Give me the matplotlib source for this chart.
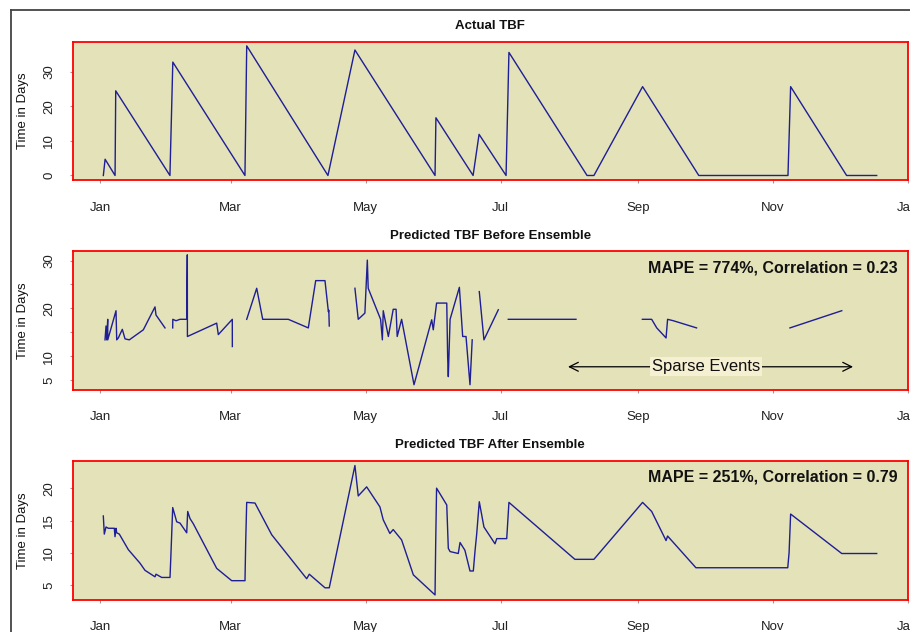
import numpy as np
import matplotlib
matplotlib.use("Agg")
import matplotlib.pyplot as plt
import matplotlib.dates as mdates
from matplotlib.lines import Line2D

plt.rcParams["font.family"] = ["Liberation Sans", "DejaVu Sans"]

YEAR_START = np.datetime64("2013-01-01")

# day of year (0 = Jan 1) and TBF values
actual_days = [1.5, 2.3, 6.8, 7.1, 31.6, 32.9, 65.5, 66.3, 103.0, 115.2, 151.4, 151.8,
               168.6, 171.3, 183.5, 184.8, 220.1, 223.2, 245.2, 270.6, 310.9, 312.1,
               337.4, 351.0]
actual_vals = [0, 4.7, 0, 24.5, 0, 32.8, 0, 37.5, 0, 36.3, 0, 16.7,
               0, 11.9, 0, 35.6, 0, 0, 25.7, 0, 0, 25.7,
               0, 0]

nan = np.nan
before_days = [2.26, 2.71, 3.03, 3.48, 3.5, 7.23, 7.55, 8.27, 10.08, 11.3, 13.24, 19.57,
               24.85, 25.3, 29.37, nan,
               32.85, 32.9, 34.34, 36.15, 39.18, 39.45, 39.5, 52.73, 53.46, 59.78, 59.8, nan,
               66.29, 70.81, 73.52, 85.09, 94.13, 97.47, 101.67, 103.2, 103.4, 103.6, nan,
               115.2, 116.7, 119.7, 120.8, 121.2, 126.8, 127.6, 128.0, 130.3, 132.5, 133.8,
               134.3, 136.3, 141.9, 149.9, 150.6, 152.1, 156.7, 157.1, 157.4, 158.2, 162.4,
               163.9, 165.4, 167.2, 168.2, nan,
               171.4, 173.5, 180.0, nan,
               184.5, 215.1, nan,
               245.1, 249.3, 251.6, 255.8, 256.5, 259.1, 269.6, nan,
               311.8, 335.2]
before_vals = [13.4, 16.3, 13.4, 17.7, 13.4, 19.5, 13.4, 13.8, 15.6, 13.6, 13.4, 15.5,
               20.3, 18.6, 15.9, nan,
               15.9, 17.7, 17.4, 17.7, 17.7, 31.2, 14.1, 16.9, 14.5, 17.7, 12.0, nan,
               17.7, 24.2, 17.7, 17.7, 15.9, 25.8, 25.8, 19.3, 19.6, 16.3, nan,
               24.2, 17.7, 19.0, 30.1, 24.2, 17.7, 13.4, 19.5, 14.1, 19.8, 19.8,
               14.1, 17.7, 4.0, 17.6, 15.5, 21.1, 21.1, 9.9, 5.7, 17.7, 24.4,
               14.1, 14.1, 4.0, 13.4, nan,
               23.5, 13.4, 19.7, nan,
               17.7, 17.7, nan,
               17.7, 17.7, 15.9, 13.8, 17.7, 17.4, 15.9, nan,
               15.9, 19.5]

after_days = [1.49, 1.94, 2.71, 3.75, 6.46, 6.78, 7.23, 7.55, 8.72, 12.79, 18.08, 20.33,
              24.85, 25.3, 27.88, 31.63, 31.95, 32.85, 34.66, 36.15, 39.18, 39.63, 40.67,
              42.16, 52.73, 59.51, 65.52, 65.84, 66.29, 70.04, 77.59, 93.4, 94.58, 101.67,
              103.6, 115.2, 116.7, 120.5, 126.5, 128.0, 131.0, 132.5, 136.3, 141.6, 151.4,
              151.7, 152.1, 156.7, 157.4, 158.2, 161.9, 162.7, 164.9, 167.2, 168.7, 169.5,
              170.2, 171.4, 173.5, 178.5, 179.3, 183.8, 184.8, 214.6, 223.2, 245.2, 249.3,
              255.8, 256.5, 269.3, 310.8, 311.4, 312.1, 335.2, 351.0]
after_vals = [15.7, 12.9, 14.0, 13.8, 13.8, 12.5, 13.8, 13.1, 12.9, 10.5, 8.4, 7.3,
              6.3, 6.7, 6.2, 6.2, 8.9, 17.0, 14.8, 14.6, 13.1, 16.4, 15.3,
              14.5, 7.6, 5.7, 5.7, 11.7, 17.8, 17.7, 12.8, 6.0, 6.7, 4.6,
              4.6, 23.5, 18.8, 20.2, 17.1, 15.1, 13.0, 13.6, 12.0, 6.6, 3.5,
              11.5, 20.0, 17.4, 10.7, 10.2, 9.9, 11.6, 10.4, 7.2, 7.2, 10.4,
              12.8, 17.9, 14.0, 11.4, 12.2, 12.2, 17.8, 9.0, 9.0, 17.8, 16.4,
              11.9, 12.6, 7.7, 7.7, 10.0, 16.0, 9.9, 9.9]

titles = ["Actual TBF", "Predicted TBF Before Ensemble", "Predicted TBF After Ensemble"]
notes = [None, "MAPE = 774%, Correlation = 0.23", "MAPE = 251%, Correlation = 0.79"]
y_ticks = [[0, 10, 20, 30], [5, 10, 15, 20, 25, 30], [5, 10, 15, 20]]
y_ticklabels = [["0", "10", "20", "30"], ["5", "10", "", "20", "", "30"], ["5", "10", "15", "20"]]
y_limits = [(-1.45, 38.7), (3.0, 32.0), (2.76, 24.23)]


def to_dates(days):
    secs = np.round(np.asarray(days, dtype=float) * 86400)
    out = np.full(secs.shape, np.datetime64("NaT"), dtype="datetime64[s]")
    ok = ~np.isnan(secs)
    out[ok] = YEAR_START + secs[ok].astype("int64").astype("timedelta64[s]")
    return out


BG = "#e4e2b9"
LINE = "#1e1e96"

fig = plt.figure(figsize=(9.1, 6.32), dpi=100)
rects = [
    [0.0799, 0.7144, 0.9176, 0.2196],
    [0.0799, 0.3837, 0.9176, 0.2191],
    [0.0799, 0.0511, 0.9176, 0.2198],
]
series = [(actual_days, actual_vals), (before_days, before_vals), (after_days, after_vals)]

axes = []
for i, rect in enumerate(rects):
    ax = fig.add_axes(rect)
    axes.append(ax)
    ax.set_facecolor(BG)
    d, v = series[i]
    ax.plot(to_dates(d), np.asarray(v, dtype=float), color=LINE, lw=1.0)
    ax.set_xlim(to_dates([-12.34])[0], to_dates([365.02])[0])
    ax.set_ylim(*y_limits[i])
    ax.xaxis.set_major_locator(mdates.MonthLocator(bymonth=(1, 3, 5, 7, 9, 11)))
    ax.xaxis.set_major_formatter(mdates.DateFormatter("%b"))
    ax.set_yticks(y_ticks[i])
    ax.set_yticklabels(y_ticklabels[i], rotation=90, va="center")
    ax.tick_params(axis="x", length=2.5, color="#999999", pad=13, labelsize=9.5,
                   labelcolor="#222222")
    ax.tick_params(axis="y", length=2.5, color="#999999", pad=10, labelsize=9.5,
                   labelcolor="#222222")
    for sp in ax.spines.values():
        sp.set_color("#ff0000")
        sp.set_linewidth(1.3)
    ax.set_title(titles[i], fontsize=9.5, fontweight="bold", pad=9, color="#111111")
    ax.set_ylabel("Time in Days", fontsize=9.5, color="#111111")
    ax.yaxis.set_label_coords(-0.052, 0.5)
    if notes[i]:
        ax.text(0.988, 0.88, notes[i], transform=ax.transAxes, ha="right", va="center",
                fontsize=11.5, fontweight="bold", color="#111111")

# sparse events annotation on the middle panel
ax = axes[1]
ax.annotate("", xy=(to_dates([211.5])[0], 7.76), xytext=(to_dates([340.3])[0], 7.76),
            arrowprops=dict(arrowstyle="<->", color="black", lw=0.9,
                            shrinkA=0, shrinkB=0, mutation_scale=16))
ax.text(to_dates([274.0])[0], 7.76, "Sparse Events", ha="center", va="center",
        fontsize=12, color="#111111",
        bbox=dict(facecolor="#f6f0d2", edgecolor="none", pad=1.5))

# frame lines of the original screenshot
fig.add_artist(Line2D([11 / 910, 1], [1 - 10 / 632, 1 - 10 / 632],
                      transform=fig.transFigure, color="#444444", lw=1.3))
fig.add_artist(Line2D([11 / 910, 11 / 910], [0, 1 - 10 / 632],
                      transform=fig.transFigure, color="#444444", lw=1.3))

fig.savefig("out.png", dpi=100)
plt.close(fig)
